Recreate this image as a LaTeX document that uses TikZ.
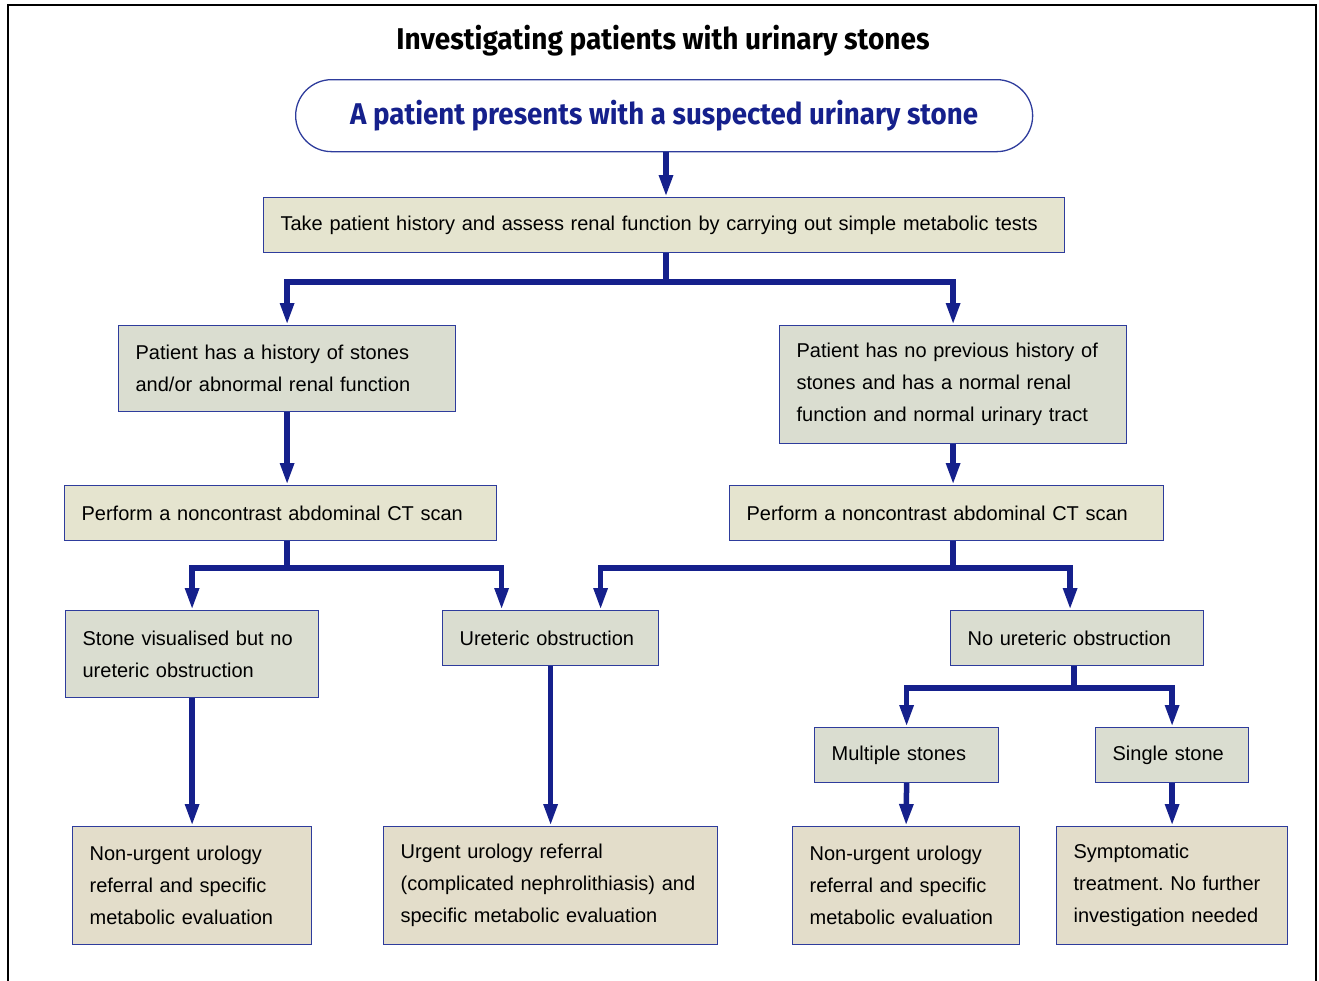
\documentclass[tikz,border=0pt]{standalone}
\usepackage{fontspec}
\usepackage{graphicx}
\setmainfont{Liberation Sans}
\newfontfamily\condfont{Fira Sans}
\usetikzlibrary{arrows.meta}
\frenchspacing
\definecolor{lineblue}{HTML}{15208C}
\definecolor{boxline}{HTML}{2E3C9C}
\definecolor{fillgrey}{HTML}{DADDD0}
\definecolor{fillbeige}{HTML}{E5E4CF}
\definecolor{fillsand}{HTML}{E3DDCA}
\tikzset{
  box/.style={draw=boxline, line width=1.2pt, inner xsep=17pt, inner ysep=0pt,
    align=left, anchor=north west, font={\fontsize{20pt}{32pt}\selectfont\frenchspacing}},
  greybox/.style={box, fill=fillgrey},
  beigebox/.style={box, fill=fillbeige},
  sandbox/.style={box, fill=fillsand},
  conn/.style={draw=lineblue, line width=5.5pt},
  arr/.style={conn, -{Triangle[length=22pt,width=13pt]}, shorten >=0pt},
}
\begin{document}
\begin{tikzpicture}[x=1pt,y=-1pt]
\useasboundingbox (0,0) rectangle (1319,980);
% outer frame
\draw[black, line width=1.5pt] (8,990) -- (8,5) -- (1316,5) -- (1316,990);
% title
\node[anchor=center] (title) at (663,41) {\resizebox{533pt}{\height}{\fontsize{30pt}{32pt}\condfont\bfseries Investigating patients with urinary stones}};
% start
\node[draw=boxline, line width=1.3pt, rounded corners=36pt, minimum width=737pt, minimum height=72pt, anchor=north west, inner sep=0pt] (start) at (295,79)
  {\textcolor{lineblue}{\resizebox{628pt}{\height}{\fontsize{30pt}{32pt}\condfont\bfseries A patient presents with a suspected urinary stone}}};
% boxes
\node[beigebox, text width=767pt, minimum height=55pt] (hist) at (263,197) {Take patient history and assess renal function by carrying out simple metabolic tests};
\node[greybox, text width=303pt, minimum height=86pt] (hl) at (118,325) {Patient has a history of stones\\and/or abnormal renal function};
\node[greybox, text width=313pt, minimum height=118pt] (hr) at (779,325) {Patient has no previous history of\\stones and has a normal renal\\function and normal urinary tract};
\node[beigebox, text width=398pt, minimum height=55pt] (ctl) at (64,485) {Perform a noncontrast abdominal CT scan};
\node[beigebox, text width=400pt, minimum height=55pt] (ctr) at (729,485) {Perform a noncontrast abdominal CT scan};
\node[greybox, text width=219pt, minimum height=87pt] (vis) at (65,610) {Stone visualised but no\\ureteric obstruction};
\node[greybox, text width=182pt, minimum height=55pt] (obs) at (442,610) {Ureteric obstruction};
\node[greybox, text width=219pt, minimum height=55pt] (nobs) at (950,610) {No ureteric obstruction};
\node[greybox, text width=150pt, minimum height=55pt] (mult) at (814,727) {Multiple stones};
\node[greybox, text width=119pt, minimum height=55pt] (sing) at (1095,727) {Single stone};
\node[sandbox, text width=205pt, minimum height=118pt] (r1) at (72,826) {Non-urgent urology\\referral and specific\\metabolic evaluation};
\node[sandbox, text width=300pt, minimum height=118pt] (r2) at (383,826) {Urgent urology referral\\(complicated nephrolithiasis) and\\specific metabolic evaluation};
\node[sandbox, text width=193pt, minimum height=118pt] (r3) at (792,826) {Non-urgent urology\\referral and specific\\metabolic evaluation};
\node[sandbox, text width=197pt, minimum height=118pt] (r4) at (1056,826) {Symptomatic\\treatment. No further\\investigation needed};
% junction coordinates
\coordinate (j1) at (666,282);
\coordinate (j2) at (287,568);
\coordinate (j3) at (953,568);
\coordinate (j4) at (1074,688);
% connectors
\draw[arr] (start.south -| j1) -- (hist.north -| j1);
\draw[conn] (hist.south -| j1) -- (j1);
\draw[arr] (j1) -| (hl.north);
\draw[arr] (j1) -| (hr.north);
\draw[arr] (hl.south) -- (ctl.north -| hl.south);
\draw[arr] (hr.south) -- (ctr.north -| hr.south);
\draw[conn] (ctl.south -| j2) -- (j2);
\draw[arr] (j2) -| (vis.north);
\draw[arr] (j2) -| ([xshift=-49pt]obs.north);
\draw[conn] (ctr.south -| j3) -- (j3);
\draw[arr] (j3) -| ([xshift=50pt]obs.north);
\draw[arr] (j3) -| ([xshift=-7pt]nobs.north);
\draw[conn] (nobs.south -| j4) -- (j4);
\draw[arr] (j4) -| (mult.north);
\draw[arr] (j4) -| (sing.north);
\draw[arr] (vis.south) -- (r1.north);
\draw[arr] (obs.south) -- (r2.north);
\draw[arr] (mult.south) -- (r3.north);
\draw[arr] (sing.south) -- (r4.north);
\end{tikzpicture}
\end{document}
